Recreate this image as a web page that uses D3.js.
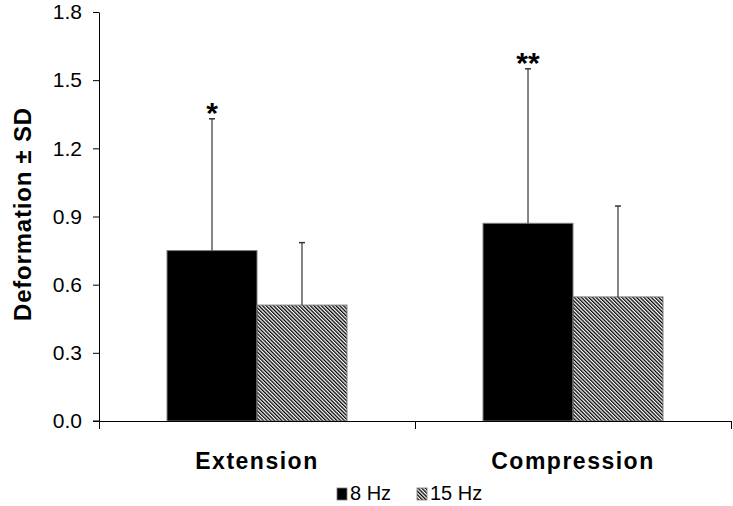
<!DOCTYPE html>
<html>
<head>
<meta charset="utf-8">
<script src="https://cdn.jsdelivr.net/npm/d3@7"></script>
<style>
  body { margin: 0; background: #fff; }
  svg { font-family: Arial, "Liberation Sans", sans-serif; }
</style>
</head>
<body>
<svg id="chart" width="733" height="506"></svg>
<script>
// data
let categories = ["Extension", "Compression"]
let series = ["8 Hz", "15 Hz"]
let means8 = [0.75, 0.87]
let sd8 = [0.58, 0.68]
let means15 = [0.51, 0.546]
let sd15 = [0.275, 0.40]
let stars = ["*", "**"]
let yTicks = [0, 0.3, 0.6, 0.9, 1.2, 1.5, 1.8]

let svg = d3.select("#chart")

let plot = { left: 99, right: 731, top: 12, bottom: 421 }

// hatch pattern for the 15 Hz bars
let defs = svg.append("defs")
defs.append("pattern")
    .attr("id", "hatch")
    .attr("patternUnits", "userSpaceOnUse")
    .attr("width", 2.6)
    .attr("height", 2.6)
    .attr("patternTransform", "rotate(-45)")
  .append("rect")
    .attr("x", 0).attr("y", 0)
    .attr("width", 1.3).attr("height", 2.6)
    .attr("fill", "#000")

let fills = { "8 Hz": "#000", "15 Hz": "url(#hatch)" }

let rows = []
categories.forEach(function (c, i) {
    rows.push({ cat: c, s: "8 Hz", v: means8[i], sd: sd8[i] })
    rows.push({ cat: c, s: "15 Hz", v: means15[i], sd: sd15[i] })
})

// scales
let yScale = d3.scaleLinear()
    .domain([0, 1.8])
    .range([plot.bottom, plot.top])

let xScale = d3.scaleBand()
    .domain(categories)
    .range([plot.left, plot.right])
    .padding(0)

let xSub = d3.scaleBand()
    .domain(series)
    .range([0, xScale.bandwidth()])
    .paddingInner(0)
    .paddingOuter(0.756)

// bars
svg.selectAll("rect.bar")
    .data(rows)
    .enter()
    .append("rect")
    .attr("class", "bar")
    .attr("x", function (d) { return xScale(d.cat) + xSub(d.s) })
    .attr("y", function (d) { return yScale(d.v) })
    .attr("width", xSub.bandwidth())
    .attr("height", function (d) { return yScale(0) - yScale(d.v) })
    .attr("fill", function (d) { return fills[d.s] })
    .attr("stroke", "#7a7a7a")
    .attr("stroke-width", 1)

// error bars (upper only)
let cx = function (d) { return xScale(d.cat) + xSub(d.s) + xSub.bandwidth() / 2 }
svg.selectAll("line.err")
    .data(rows)
    .enter()
    .append("line")
    .attr("class", "err")
    .attr("x1", cx).attr("x2", cx)
    .attr("y1", function (d) { return yScale(d.v) })
    .attr("y2", function (d) { return yScale(d.v + d.sd) })
    .attr("stroke", "#333")
    .attr("stroke-width", 1.2)

svg.selectAll("line.cap")
    .data(rows)
    .enter()
    .append("line")
    .attr("class", "cap")
    .attr("x1", function (d) { return cx(d) - 3 })
    .attr("x2", function (d) { return cx(d) + 3 })
    .attr("y1", function (d) { return yScale(d.v + d.sd) })
    .attr("y2", function (d) { return yScale(d.v + d.sd) })
    .attr("stroke", "#333")
    .attr("stroke-width", 1.5)

// significance stars above 8 Hz bars
svg.selectAll("text.star")
    .data(rows.filter(function (d) { return d.s == "8 Hz" }))
    .enter()
    .append("text")
    .attr("class", "star")
    .attr("x", cx)
    .attr("y", function (d) { return yScale(d.v + d.sd) + 4 })
    .attr("text-anchor", "middle")
    .style("font-size", "30px")
    .style("font-weight", "bold")
    .text(function (d, i) { return stars[i] })

// y axis
let yAxis = d3.axisLeft(yScale)
    .tickValues(yTicks)
    .tickFormat(d3.format(".1f"))
    .tickSizeInner(6)
    .tickSizeOuter(0)
    .tickPadding(11)

let yAxisGroup = svg.append("g")
    .attr("transform", "translate(" + plot.left + ",0)")
    .call(yAxis)
yAxisGroup.selectAll("text").style("font-size", "21px").attr("fill", "#000")
yAxisGroup.selectAll("line, path").attr("stroke", "#000")

// x axis with ticks at the category boundaries
let xEdge = d3.scaleLinear().domain([0, categories.length]).range([plot.left, plot.right])
let xAxisGroup = svg.append("g")
    .attr("transform", "translate(0," + plot.bottom + ")")
    .call(d3.axisBottom(xEdge)
        .tickValues(d3.range(categories.length + 1))
        .tickFormat("")
        .tickSizeInner(8)
        .tickSizeOuter(0))
xAxisGroup.selectAll("line, path").attr("stroke", "#000")
// small stub left of y axis
svg.append("line")
    .attr("x1", plot.left - 6).attr("x2", plot.left)
    .attr("y1", plot.bottom).attr("y2", plot.bottom)
    .attr("stroke", "#000")

// category labels
svg.selectAll("text.cat")
    .data(categories)
    .enter()
    .append("text")
    .attr("class", "cat")
    .attr("x", function (d) { return xScale(d) + xScale.bandwidth() / 2 })
    .attr("y", 469)
    .attr("text-anchor", "middle")
    .style("font-size", "23px")
    .style("font-weight", "bold")
    .style("letter-spacing", "1.5px")
    .text(function (d) { return d })

// y axis title
svg.append("text")
    .attr("transform", "translate(31," + 214 + ") rotate(-90)")
    .attr("text-anchor", "middle")
    .style("font-size", "24px")
    .style("font-weight", "bold")
    .style("letter-spacing", "0.8px")
    .text("Deformation \u00b1 SD")

// legend
let legendX = [337, 417]
let legend = svg.selectAll("g.legend")
    .data(series)
    .enter()
    .append("g")
    .attr("class", "legend")
    .attr("transform", function (d, i) { return "translate(" + legendX[i] + ",488)" })
legend.append("rect")
    .attr("width", 10).attr("height", 12)
    .attr("fill", function (d) { return fills[d] })
    .attr("stroke", "#7a7a7a")
    .attr("stroke-width", 0.8)
legend.append("text")
    .attr("x", 13)
    .attr("y", 12)
    .style("font-size", "20px")
    .text(function (d) { return d })
</script>
</body>
</html>
